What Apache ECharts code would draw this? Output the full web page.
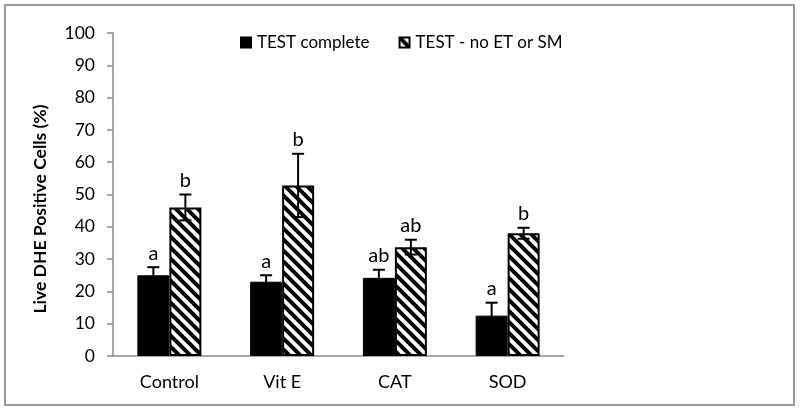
<!DOCTYPE html>
<html>
<head>
<meta charset="utf-8">
<script src="https://cdn.jsdelivr.net/npm/echarts@6/dist/echarts.min.js"></script>
<style>
  html, body { margin: 0; padding: 0; background: #fff; }
  #main { width: 800px; height: 412px; }
</style>
</head>
<body>
<div id="main"></div>
<script>
var categories = ['Control', 'Vit E', 'CAT', 'SOD'];
var completeValues = [25, 23, 24.2, 12.5];
var completeErrors = [2.5, 2, 2.5, 4];
var completeLetters = ['a', 'a', 'ab', 'a'];
var noEtValues = [46, 52.8, 33.7, 38];
var noEtErrors = [4, 9.8, 2.3, 1.7];
var noEtLetters = ['b', 'b', 'ab', 'b'];

var FONT = 'Lato, "DejaVu Sans", sans-serif';

// diagonal stripe pattern for the second series
function makeStripes() {
  var s = 11;
  var c = document.createElement('canvas');
  c.width = s; c.height = s;
  var ctx = c.getContext('2d');
  ctx.fillStyle = '#fff';
  ctx.fillRect(0, 0, s, s);
  ctx.strokeStyle = '#000';
  ctx.lineWidth = 4;
  ctx.beginPath();
  ctx.moveTo(-2, -2); ctx.lineTo(s + 2, s + 2);
  ctx.moveTo(-2 - s, -2); ctx.lineTo(2, s + 2);
  ctx.moveTo(s - 2, -2); ctx.lineTo(2 * s + 2, s + 2);
  ctx.stroke();
  return c;
}
var stripes = makeStripes();

function errorSeries(values, errors, letters, offset) {
  var data = values.map(function (v, i) { return [i, v, errors[i]]; });
  return {
    type: 'custom',
    silent: true,
    z: 10,
    data: data,
    renderItem: function (params, api) {
      var idx = api.value(0), v = api.value(1), e = api.value(2);
      var x = api.coord([idx, 0])[0] + offset;
      var yTop = api.coord([idx, v + e])[1];
      var yBot = api.coord([idx, v - e])[1];
      var cap = 6;
      var st = { stroke: '#000', lineWidth: 2 };
      return {
        type: 'group',
        children: [
          { type: 'line', shape: { x1: x, y1: yTop, x2: x, y2: yBot }, style: st },
          { type: 'line', shape: { x1: x - cap, y1: yTop, x2: x + cap, y2: yTop }, style: st },
          { type: 'line', shape: { x1: x - cap, y1: yBot, x2: x + cap, y2: yBot }, style: st },
          { type: 'text', x: x, y: yTop - 4, style: {
              text: letters[params.dataIndex], fill: '#000',
              font: '20px ' + FONT, align: 'center', verticalAlign: 'bottom' } }
        ]
      };
    }
  };
}

var myChart = echarts.init(document.getElementById('main'));
var option = {
  animation: false,
  backgroundColor: '#fff',
  graphic: [
    {
      type: 'rect', silent: true,
      shape: { x: 5, y: 5, width: 789, height: 400 },
      style: { fill: 'none', stroke: '#9a9a9a', lineWidth: 2 }
    },
    {
      // y axis title
      type: 'text', silent: true,
      x: 40, y: 209, rotation: Math.PI / 2,
      style: {
        text: 'Live DHE Positive Cells (%)', fill: '#000',
        font: 'bold 17.5px ' + FONT, align: 'center', verticalAlign: 'middle'
      }
    }
  ],
  legend: {
    left: 235, top: 29,
    itemWidth: 10, itemHeight: 10, itemGap: 29,
    icon: 'rect',
    textStyle: { fontFamily: FONT, fontSize: 17, color: '#000', padding: [0, 0, 0, 1] },
    data: ['TEST complete', 'TEST - no ET or SM']
  },
  grid: { left: 113, right: 236, top: 33, bottom: 56 },
  xAxis: {
    type: 'category',
    data: categories,
    axisLine: { lineStyle: { color: '#8a8a8a', width: 1.5 } },
    axisTick: { length: 5, lineStyle: { color: '#8a8a8a', width: 1.5 } },
    axisLabel: { fontFamily: FONT, fontSize: 18, color: '#000', margin: 17 }
  },
  yAxis: {
    type: 'value',
    min: 0, max: 100, interval: 10,
    splitLine: { show: false },
    axisLine: { show: true, lineStyle: { color: '#8a8a8a', width: 1.5 } },
    axisTick: { show: true, length: 6, lineStyle: { color: '#8a8a8a', width: 1.5 } },
    axisLabel: { fontFamily: FONT, fontSize: 17.5, color: '#000', margin: 18 }
  },
  series: [
    {
      name: 'TEST complete', type: 'bar',
      barWidth: 32, barGap: '0%',
      itemStyle: { color: '#000', borderColor: '#000', borderWidth: 1 },
      data: completeValues
    },
    {
      name: 'TEST - no ET or SM', type: 'bar',
      barWidth: 32, barGap: '0%',
      itemStyle: { color: { image: stripes, repeat: 'repeat' }, borderColor: '#000', borderWidth: 2 },
      data: noEtValues
    },
    errorSeries(completeValues, completeErrors, completeLetters, -16),
    errorSeries(noEtValues, noEtErrors, noEtLetters, 16)
  ]
};
myChart.setOption(option);
</script>
</body>
</html>
